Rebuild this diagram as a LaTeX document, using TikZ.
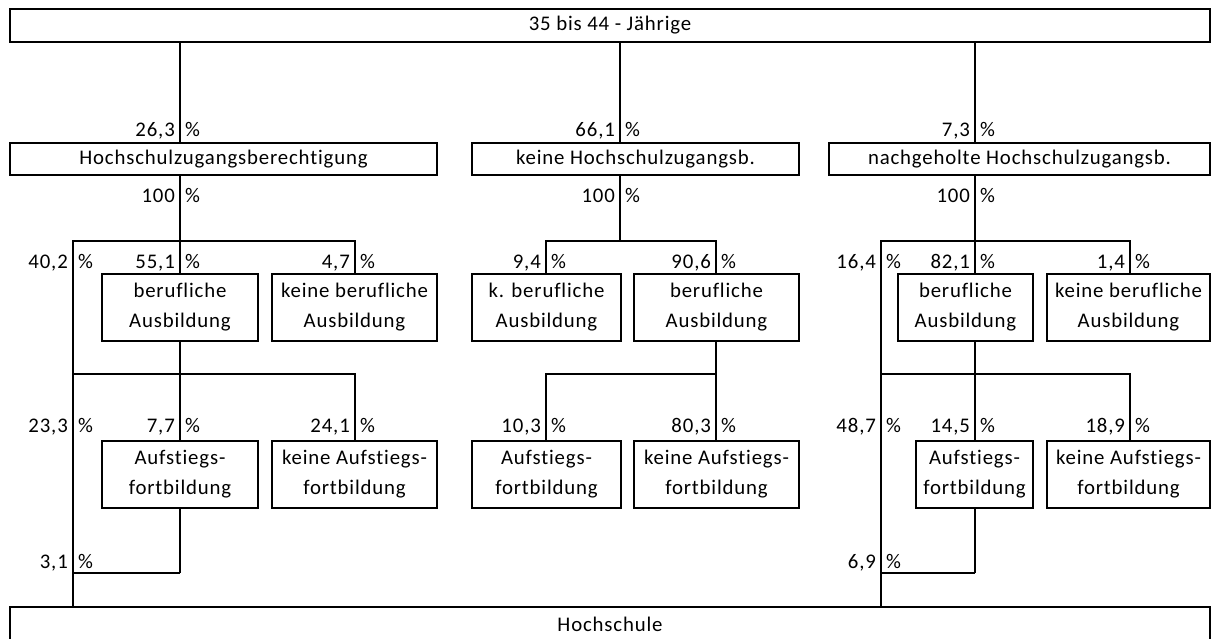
\documentclass[tikz,border=0pt]{standalone}
\usepackage{fontspec}
\setmainfont[LetterSpace=4, Ligatures=NoCommon]{Carlito}
\usetikzlibrary{positioning}

\begin{document}
\begin{tikzpicture}[
        x=1pt, y=-1pt,
        every node/.style={font=\fontsize{20.8}{30}\selectfont},
        box/.style={
            rectangle, draw=black, line width=2pt,
            inner sep=0pt, align=center, minimum height=32pt
        },
        twobox/.style={box, minimum height=67pt},
        num/.style={anchor=base east, inner sep=0pt, xshift=-5pt},
        pct/.style={anchor=base west, inner sep=0pt, xshift=5pt},
        line/.style={line width=2pt},
        thin/.style={line width=1.2pt}
        ]

    \useasboundingbox (0,0) rectangle (1212,638);

    % --- Ebene 1: Altersgruppe und Abschluss ---
        \node[box, minimum width=1200pt, minimum height=33pt] (alter) at (610,25.5) {35 bis 44 - Jährige};

        \node[box, minimum width=427pt] (hzb) at (223.5,159) {Hochschulzugangsberechtigung};
        \node[box, minimum width=327pt] (khzb) at (635.5,159) {keine Hochschulzugangsb.};
        \node[box, minimum width=381pt] (nhzb) at (1019.5,159) {nachgeholte Hochschulzugangsb.};

        \node[box, minimum width=1200pt, minimum height=34pt] (hochschule) at (610,624) {Hochschule};

    % --- Ebene 2: berufliche Ausbildung ---
        \node[twobox, minimum width=156pt] (hzbBa) at (180,307) {berufliche\\Ausbildung};
        \node[twobox, minimum width=165pt] (hzbKba) at (354.5,307) {keine berufliche\\Ausbildung};
        \node[twobox, minimum width=149pt] (khzbKba) at (546.5,307) {k. berufliche\\Ausbildung};
        \node[twobox, minimum width=165pt] (khzbBa) at (716.5,307) {berufliche\\Ausbildung};
        \node[twobox, minimum width=135pt] (nhzbBa) at (965.5,307) {berufliche\\Ausbildung};
        \node[twobox, minimum width=163pt] (nhzbKba) at (1128.5,307) {keine berufliche\\Ausbildung};

    % --- Ebene 3: Aufstiegsfortbildung ---
        \node[twobox, minimum width=156pt] (hzbAf) at (180,474.5) {Aufstiegs-\\fortbildung};
        \node[twobox, minimum width=165pt] (hzbKaf) at (354.5,474.5) {keine Aufstiegs-\\fortbildung};
        \node[twobox, minimum width=149pt] (khzbAf) at (546.5,474.5) {Aufstiegs-\\fortbildung};
        \node[twobox, minimum width=165pt] (khzbKaf) at (716.5,474.5) {keine Aufstiegs-\\fortbildung};
        \node[twobox, minimum width=117pt] (nhzbAf) at (974.5,474.5) {Aufstiegs-\\fortbildung};
        \node[twobox, minimum width=163pt] (nhzbKaf) at (1128.5,474.5) {keine Aufstiegs-\\fortbildung};

    % Hilfspunkte fuer die Linien (x der Aeste, y der Verzweigungen)
        \coordinate (xa) at (180,0);  \coordinate (xal) at (73,0);  \coordinate (xar) at (355,0);
        \coordinate (xb) at (620,0);  \coordinate (xbl) at (546,0); \coordinate (xbr) at (716,0);
        \coordinate (xc) at (975,0);  \coordinate (xcl) at (881,0); \coordinate (xcr) at (1130,0);
        \coordinate (ya) at (0,241);  \coordinate (yb) at (0,374);  \coordinate (yc) at (0,573);

    % --- Linien: Hochschulzugangsberechtigung ---
        \draw[line] (alter.south -| xa) -- (hzb.north -| xa);
        \draw[line] (hzb.south -| xa) -- (hzbBa.north);
        \draw[line] (hochschule.north -| xal) -- (xal |- ya) -- (xar |- ya) -- (hzbKba.north -| xar);
        \draw[line] (hzbBa.south) -- (hzbAf.north);
        \draw[line] (xal |- yb) -- (xar |- yb) -- (hzbKaf.north -| xar);
        \draw[line] (hzbAf.south) -- (xa |- yc);
        \draw[thin] (xa |- yc) -- (xal |- yc);

    % --- Linien: keine Hochschulzugangsb. ---
        \draw[line] (alter.south -| xb) -- (khzb.north -| xb);
        \draw[line] (khzb.south -| xb) -- (xb |- ya);
        \draw[line] (khzbKba.north -| xbl) -- (xbl |- ya) -- (xbr |- ya) -- (khzbBa.north -| xbr);
        \draw[line] (khzbBa.south -| xbr) -- (khzbKaf.north -| xbr);
        \draw[line] (khzbAf.north -| xbl) -- (xbl |- yb) -- (xbr |- yb);

    % --- Linien: nachgeholte Hochschulzugangsb. ---
        \draw[line] (alter.south -| xc) -- (nhzb.north -| xc);
        \draw[line] (nhzb.south -| xc) -- (nhzbBa.north -| xc);
        \draw[line] (hochschule.north -| xcl) -- (xcl |- ya) -- (xcr |- ya) -- (nhzbKba.north -| xcr);
        \draw[line] (nhzbBa.south -| xc) -- (nhzbAf.north -| xc);
        \draw[line] (xcl |- yb) -- (xcr |- yb) -- (nhzbKaf.north -| xcr);
        \draw[line] (nhzbAf.south -| xc) -- (xc |- yc);
        \draw[thin] (xc |- yc) -- (xcl |- yc);

    % --- Prozentangaben ---
        \node[num] (hzbIn) at (180,136) {26,3};    \node[pct] (hzbInP) at (180,136) {\%};
        \node[num] (khzbIn) at (620,136) {66,1};   \node[pct] (khzbInP) at (620,136) {\%};
        \node[num] (nhzbIn) at (975,136) {7,3};    \node[pct] (nhzbInP) at (975,136) {\%};

        \node[num] (hzbOut) at (180,202) {100};    \node[pct] (hzbOutP) at (180,202) {\%};
        \node[num] (khzbOut) at (620,202) {100};   \node[pct] (khzbOutP) at (620,202) {\%};
        \node[num] (nhzbOut) at (975,202) {100};   \node[pct] (nhzbOutP) at (975,202) {\%};

        \node[num] (hzbDirekt) at (73,268) {40,2};   \node[pct] (hzbDirektP) at (73,268) {\%};
        \node[num] (hzbBaIn) at (180,268) {55,1};    \node[pct] (hzbBaInP) at (180,268) {\%};
        \node[num] (hzbKbaIn) at (355,268) {4,7};    \node[pct] (hzbKbaInP) at (355,268) {\%};
        \node[num] (khzbKbaIn) at (546,268) {9,4};   \node[pct] (khzbKbaInP) at (546,268) {\%};
        \node[num] (khzbBaIn) at (716,268) {90,6};   \node[pct] (khzbBaInP) at (716,268) {\%};
        \node[num] (nhzbDirekt) at (881,268) {16,4}; \node[pct] (nhzbDirektP) at (881,268) {\%};
        \node[num] (nhzbBaIn) at (975,268) {82,1};   \node[pct] (nhzbBaInP) at (975,268) {\%};
        \node[num] (nhzbKbaIn) at (1130,268) {1,4};  \node[pct] (nhzbKbaInP) at (1130,268) {\%};

        \node[num] (hzbBaDirekt) at (73,432) {23,3}; \node[pct] (hzbBaDirektP) at (73,432) {\%};
        \node[num] (hzbAfIn) at (180,432) {7,7};     \node[pct] (hzbAfInP) at (180,432) {\%};
        \node[num] (hzbKafIn) at (355,432) {24,1};   \node[pct] (hzbKafInP) at (355,432) {\%};
        \node[num] (khzbAfIn) at (546,432) {10,3};   \node[pct] (khzbAfInP) at (546,432) {\%};
        \node[num] (khzbKafIn) at (716,432) {80,3};  \node[pct] (khzbKafInP) at (716,432) {\%};
        \node[num] (nhzbBaDirekt) at (881,432) {48,7}; \node[pct] (nhzbBaDirektP) at (881,432) {\%};
        \node[num] (nhzbAfIn) at (975,432) {14,5};   \node[pct] (nhzbAfInP) at (975,432) {\%};
        \node[num] (nhzbKafIn) at (1130,432) {18,9}; \node[pct] (nhzbKafInP) at (1130,432) {\%};

        \node[num] (hzbAfOut) at (73,568) {3,1};     \node[pct] (hzbAfOutP) at (73,568) {\%};
        \node[num] (nhzbAfOut) at (881,568) {6,9};   \node[pct] (nhzbAfOutP) at (881,568) {\%};

\end{tikzpicture}
\end{document}
